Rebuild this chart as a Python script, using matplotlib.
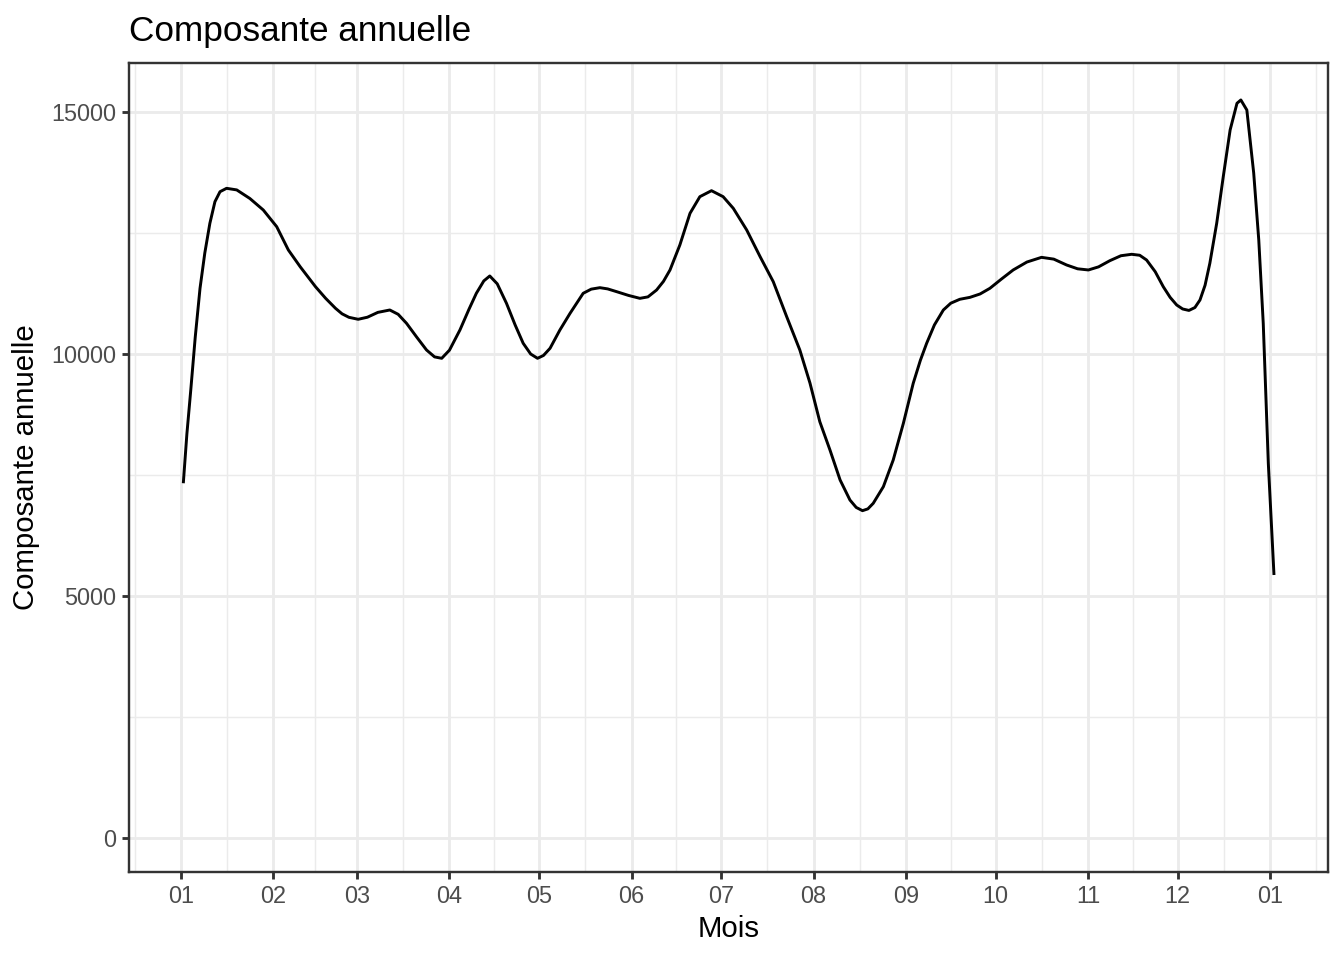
import numpy as np
import matplotlib
matplotlib.use("Agg")
import matplotlib.pyplot as plt
import matplotlib.dates as mdates

plt.rcParams['font.family'] = ['Liberation Sans', 'DejaVu Sans']

# days after 2023-01-01
days = [0.8, 2.0, 3.3, 4.8, 6.4, 8.0, 9.7, 11.4, 13.1, 15.3, 18.7, 23.1, 27.6,
        32.1, 36.0, 40.0, 45.1, 48.5, 51.8, 54.0, 56.3, 59.4, 62.5, 66.0, 70.0,
        72.8, 75.6, 79.0, 82.3, 85.0, 87.4, 90.0, 93.5, 96.5, 99.0, 101.5,
        103.5, 106.0, 109.1, 112.0, 114.7, 117.2, 119.5, 121.5, 123.7, 127.0,
        130.4, 134.8, 137.5, 140.4, 143.0, 146.0, 150.0, 153.8, 156.5, 159.4,
        161.7, 163.9, 167.2, 170.6, 173.9, 177.8, 181.7, 185.1, 189.6, 194.1,
        198.5, 203.0, 207.4, 210.8, 214.1, 217.5, 220.9, 224.2, 226.3, 228.4,
        230.2, 232.0, 235.4, 238.7, 242.1, 245.4, 247.8, 249.9, 252.5, 255.5,
        258.0, 261.0, 264.4, 267.8, 271.1, 275.0, 278.9, 283.5, 288.4, 292.5,
        296.8, 300.5, 304.1, 307.5, 311.3, 315.0, 318.6, 321.3, 323.6, 326.5,
        329.2, 331.5, 333.7, 335.7, 337.8, 339.8, 341.5, 343.2, 344.8, 347.1,
        349.3, 351.6, 353.9, 355.2, 357.2, 359.5, 361.2, 362.7, 364.4, 366.3]
valeurs = [7330, 8350, 9256, 10350, 11357, 12085, 12700, 13147, 13353, 13423,
           13390, 13213, 12975, 12630, 12149, 11800, 11390, 11150, 10944, 10830,
           10758, 10717, 10760, 10860, 10909, 10820, 10634, 10350, 10083, 9940,
           9911, 10080, 10496, 10920, 11254, 11510, 11612, 11450, 11047, 10600,
           10221, 10000, 9911, 9970, 10118, 10496, 10840, 11254, 11340, 11370,
           11345, 11288, 11210, 11150, 11180, 11322, 11500, 11736, 12252, 12906,
           13250, 13374, 13250, 13010, 12562, 12010, 11494, 10771, 10083, 9400,
           8601, 8017, 7397, 6983, 6830, 6763, 6800, 6915, 7259, 7810, 8568, 9394,
           9870, 10221, 10600, 10909, 11050, 11130, 11170, 11240, 11357, 11550,
           11736, 11900, 11997, 11960, 11839, 11760, 11736, 11800, 11928, 12030,
           12060, 12040, 11942, 11700, 11390, 11170, 11012, 10930, 10900, 10960,
           11116, 11420, 11873, 12700, 13663, 14628, 15180, 15248, 15041, 13740,
           12355, 10634, 7741, 5434]

debut = mdates.date2num(np.datetime64('2023-01-01'))
x = debut + np.array(days)

fig = plt.figure(figsize=(7, 5), dpi=192)
ax = fig.add_axes([129/1344, 1 - 872/960, (1328-129)/1344, (872-63)/960])

ax.plot(x, valeurs, color='black', lw=1.1, zorder=3,
        solid_joinstyle='round', solid_capstyle='butt')

ax.set_xlim(debut - 17.4, debut + 384.4)
ax.set_ylim(-702, 16012)

# month ticks and minor midpoints
mois = [mdates.date2num(np.datetime64('2023-%02d-01' % m)) for m in range(1, 13)]
mois.append(mdates.date2num(np.datetime64('2024-01-01')))
bords = [mdates.date2num(np.datetime64('2022-12-01'))] + mois + [mdates.date2num(np.datetime64('2024-02-01'))]
mineurs = [(a + b) / 2 for a, b in zip(bords[:-1], bords[1:])]
ax.set_xticks(mois)
ax.set_xticks(mineurs, minor=True)
ax.xaxis.set_major_formatter(mdates.DateFormatter('%m'))
ax.set_yticks([0, 5000, 10000, 15000])
ax.set_yticks([2500, 7500, 12500], minor=True)
ax.yaxis.set_major_formatter(plt.FuncFormatter(lambda v, p: '%d' % v))

ax.grid(True, which='major', color='#EBEBEB', lw=1.07)
ax.grid(True, which='minor', color='#EBEBEB', lw=0.53)
ax.set_axisbelow(True)
ax.tick_params(which='major', length=2.75, width=1.07, color='#333333',
               labelcolor='#4D4D4D', labelsize=8.8, pad=2.2)
ax.tick_params(which='minor', length=0)
for s in ax.spines.values():
    s.set_color('#333333')
    s.set_linewidth(0.9)

ax.set_xlabel('Mois', fontsize=11, color='black', labelpad=2.5)
ax.set_ylabel('Composante annuelle', fontsize=11, color='black', labelpad=4)
fig.text(129/1344, 1 - 41/960, 'Composante annuelle', fontsize=13.2,
         ha='left', va='baseline')

fig.savefig('out.png', dpi=192)
